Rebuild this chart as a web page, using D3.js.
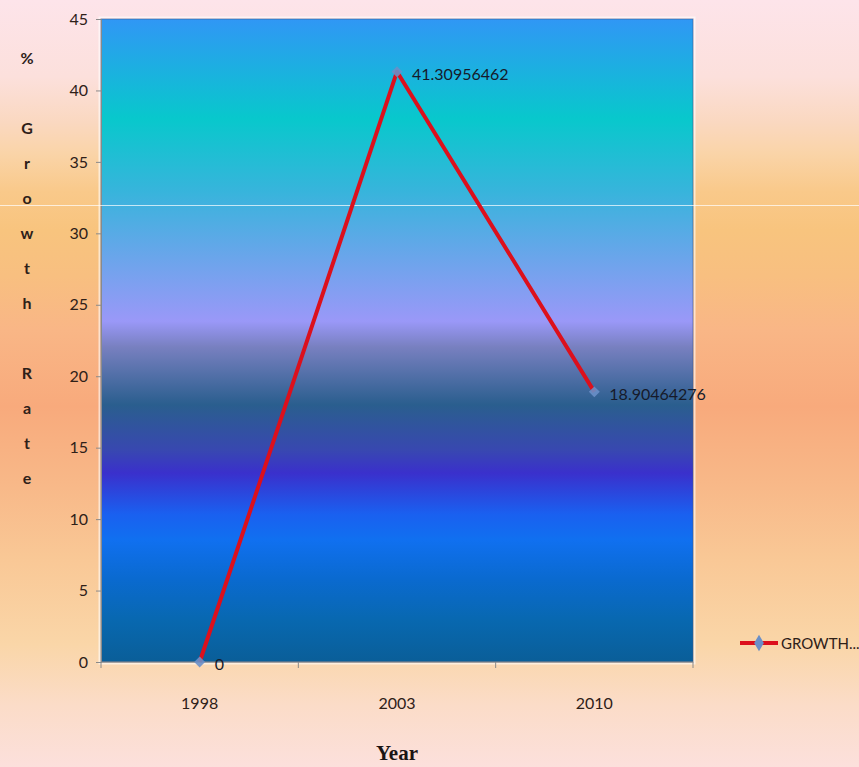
<!DOCTYPE html>
<html>
<head>
<meta charset="utf-8">
<script src="https://cdn.jsdelivr.net/npm/d3@7"></script>
<style>
  html, body { margin: 0; padding: 0; }
  body { width: 859px; height: 767px; overflow: hidden; }
</style>
</head>
<body>
<div class="canvas"></div>
<script>
// chart data
const years = ['1998', '2003', '2010'];
const growth = [0, 41.30956462, 18.90464276];
const yTicks = [0, 5, 10, 15, 20, 25, 30, 35, 40, 45];
const seriesName = 'GROWTH...';
const yTitle = '% Growth Rate';
const xTitle = 'Year';

const dimensions = { width: 859, height: 767 };
const plot = { left: 101, top: 19, right: 693, bottom: 662 };
const textColor = '#2e2018';
const labelFont = 'Lato, "Open Sans", sans-serif';

const svg = d3.select('.canvas')
    .append('svg')
    .attr('width', dimensions.width)
    .attr('height', dimensions.height);

const defs = svg.append('defs');

// page background gradient (pink -> orange -> salmon -> peach -> pink)
const pageGrad = defs.append('linearGradient')
    .attr('id', 'pageGrad')
    .attr('x1', 0).attr('y1', 0).attr('x2', 0).attr('y2', 1);
[
    [0, '#fde4ea'], [0.1, '#fce0dc'], [0.16, '#fad8c0'], [0.2, '#fad4a8'],
    [0.25, '#f9c98a'], [0.3, '#f8c47e'], [0.36, '#f8bf80'], [0.43, '#f9b686'],
    [0.53, '#f8aa7c'], [0.63, '#f8b888'], [0.73, '#f9c896'], [0.84, '#fad6a8'],
    [0.92, '#fbdcc8'], [1, '#fce0dc']
].forEach(([o, c]) => pageGrad.append('stop').attr('offset', o).attr('stop-color', c));

// plot area gradient
const plotGrad = defs.append('linearGradient')
    .attr('id', 'plotGrad')
    .attr('x1', 0).attr('y1', 0).attr('x2', 0).attr('y2', 1);
[
    [0, '#3097f5'], [0.155, '#08c8cc'], [0.27, '#38b4dc'], [0.35, '#60a8e8'],
    [0.47, '#9a98f8'], [0.51, '#7880c0'], [0.6, '#2a5e8e'], [0.67, '#3848b0'],
    [0.706, '#3a30cc'], [0.77, '#1a60f0'], [0.81, '#1070f0'], [0.87, '#0a6ad0'],
    [0.935, '#0868b0'], [1, '#0a5e98']
].forEach(([o, c]) => plotGrad.append('stop').attr('offset', o).attr('stop-color', c));

svg.append('rect')
    .attr('width', dimensions.width)
    .attr('height', dimensions.height)
    .attr('fill', 'url(#pageGrad)');

// plot area with soft light halo
svg.append('rect')
    .attr('x', plot.left - 1.5).attr('y', plot.top - 1.5)
    .attr('width', plot.right - plot.left + 3)
    .attr('height', plot.bottom - plot.top + 3)
    .attr('fill', 'none')
    .attr('stroke', 'rgba(255,255,255,0.6)')
    .attr('stroke-width', 2);

svg.append('rect')
    .attr('x', plot.left).attr('y', plot.top)
    .attr('width', plot.right - plot.left)
    .attr('height', plot.bottom - plot.top)
    .attr('fill', 'url(#plotGrad)')
    .attr('stroke', 'rgba(60,90,140,0.6)')
    .attr('stroke-width', 1);

// scales
const x = d3.scaleBand()
    .domain(years)
    .range([plot.left, plot.right]);

const y = d3.scaleLinear()
    .domain([0, 45])
    .range([plot.bottom, plot.top]);

// y axis
const yAxis = d3.axisLeft(y)
    .tickValues(yTicks)
    .tickSize(5)
    .tickPadding(8);

const yAxisGroup = svg.append('g')
    .attr('transform', `translate(${plot.left}, 0)`)
    .call(yAxis);

// x axis (ticks at band boundaries, labels at band centres)
const xAxisGroup = svg.append('g')
    .attr('transform', `translate(0, ${plot.bottom})`);

xAxisGroup.append('line')
    .attr('x1', plot.left).attr('x2', plot.right)
    .attr('stroke', '#8a8a8a');

const boundaries = [plot.left, ...years.map(d => x(d) + x.bandwidth())];
xAxisGroup.selectAll('line.tick')
    .data(boundaries)
    .enter()
    .append('line')
    .attr('class', 'tick')
    .attr('x1', d => d).attr('x2', d => d)
    .attr('y1', 0).attr('y2', 6)
    .attr('stroke', '#8a8a8a');

xAxisGroup.selectAll('text')
    .data(years)
    .enter()
    .append('text')
    .attr('x', d => x(d) + x.bandwidth() / 2)
    .attr('y', 47)
    .attr('text-anchor', 'middle')
    .attr('fill', textColor)
    .style('font-family', labelFont)
    .style('font-size', '16px')
    .text(d => d);

yAxisGroup.select('.domain').attr('stroke', '#8a8a8a');
yAxisGroup.selectAll('.tick line').attr('stroke', '#8a8a8a');
yAxisGroup.selectAll('.tick text')
    .attr('fill', textColor)
    .style('font-family', labelFont)
    .style('font-size', '16px');

// thin white artefact line across the picture
svg.append('line')
    .attr('x1', 0).attr('x2', dimensions.width)
    .attr('y1', 205.5).attr('y2', 205.5)
    .attr('stroke', 'rgba(255,255,255,0.7)')
    .attr('stroke-width', 1);

// series line
const points = years.map((year, i) => ({ year, value: growth[i] }));
const cx = d => x(d.year) + x.bandwidth() / 2;

const line = d3.line()
    .x(cx)
    .y(d => y(d.value));

svg.append('path')
    .datum(points)
    .attr('d', line)
    .attr('fill', 'none')
    .attr('stroke', '#dc101c')
    .attr('stroke-width', 4)
    .attr('stroke-linejoin', 'round');

// rotated square marker
const marker = d3.symbol().type(d3.symbolSquare).size(60);

svg.selectAll('path.marker')
    .data(points)
    .enter()
    .append('path')
    .attr('class', 'marker')
    .attr('d', marker)
    .attr('transform', d => `translate(${cx(d)}, ${y(d.value)}) rotate(45)`)
    .attr('fill', '#6a8fc8')
    .attr('opacity', 0.9);

// data labels
svg.selectAll('text.value')
    .data(points)
    .enter()
    .append('text')
    .attr('class', 'value')
    .attr('x', d => cx(d) + 15)
    .attr('y', d => y(d.value) + 8)
    .attr('fill', '#161a2a')
    .style('font-family', labelFont)
    .style('font-size', '16px')
    .text(d => d.value);

// axis titles
svg.append('text')
    .attr('x', 397)
    .attr('y', 760)
    .attr('text-anchor', 'middle')
    .attr('fill', '#1a1414')
    .style('font-family', '"Liberation Serif", "Times New Roman", serif')
    .style('font-weight', 'bold')
    .style('font-size', '21px')
    .text(xTitle);

svg.append('g')
    .selectAll('text')
    .data(yTitle.split(''))
    .enter()
    .append('text')
    .attr('x', 27)
    .attr('y', (d, i) => 64 + i * 35)
    .attr('text-anchor', 'middle')
    .attr('fill', textColor)
    .style('font-family', labelFont)
    .style('font-weight', 'bold')
    .style('font-size', '16px')
    .text(d => d);

// legend
const legendGroup = svg.append('g')
    .attr('transform', 'translate(740, 643)');

legendGroup.append('line')
    .attr('x1', 0).attr('x2', 38)
    .attr('stroke', '#dc101c')
    .attr('stroke-width', 4);

legendGroup.append('path')
    .attr('d', d3.symbol().type(d3.symbolDiamond).size(80))
    .attr('transform', 'translate(19, 0)')
    .attr('fill', '#6a8fc8');

legendGroup.append('text')
    .attr('x', 41)
    .attr('y', 6)
    .attr('fill', textColor)
    .style('font-family', labelFont)
    .style('font-size', '15px')
    .text(seriesName);
</script>
</body>
</html>
